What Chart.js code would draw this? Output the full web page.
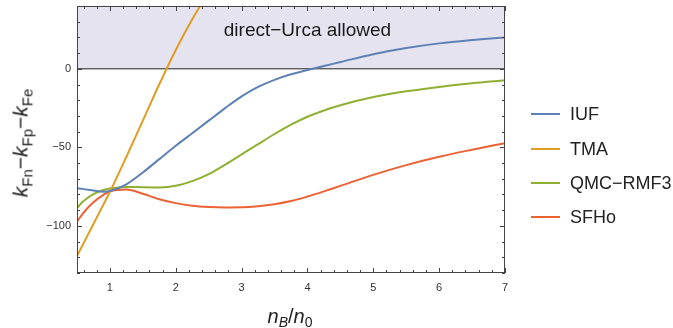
<!DOCTYPE html>
<html>
<head>
<meta charset="utf-8">
<script src="https://cdn.jsdelivr.net/npm/chart.js@4.4.1/dist/chart.umd.min.js"></script>
<style>
  html, body { margin: 0; padding: 0; background: #fff; }
  #wrap { position: relative; width: 673px; height: 328px; overflow: hidden; font-family: 'Liberation Sans', Arial, sans-serif; color: #222; }
  #chart { position: absolute; left: 0; top: 0; }
  .axis-title { position: absolute; white-space: nowrap; font-size: 20px; line-height: 1; }
  .axis-title sub { font-size: 14px; vertical-align: -0.3em; line-height: 0; }
  #ytitle { left: 20px; top: 143px; font-size: 21px; transform: translate(-50%, -50%) rotate(-90deg); }
  #ytitle sub { font-size: 15px; }
  #xtitle { left: 290px; top: 306px; transform: translateX(-50%); }
  .legend { position: absolute; left: 531px; top: 0; }
  .legend-item { position: absolute; left: 0; height: 20px; display: flex; align-items: center; font-size: 18px; white-space: nowrap; }
  .legend-swatch { width: 29px; height: 2px; margin-right: 10px; }
</style>
</head>
<body>
<div id="wrap">
  <canvas id="chart" width="673" height="328"></canvas>
  <div id="ytitle" class="axis-title"><i>k</i><sub>Fn</sub>−<i>k</i><sub>Fp</sub>−<i>k</i><sub>Fe</sub></div>
  <div id="xtitle" class="axis-title"><i>n</i><sub><i>B</i></sub>/<i>n</i><sub>0</sub></div>
  <div class="legend" id="legend"></div>
</div>
<script>
// baryon density in units of saturation density
const density = [0.5, 0.6, 0.75, 0.9, 1, 1.25, 1.5, 1.75, 2, 2.25, 2.5, 2.75, 3, 3.25, 3.5, 3.75, 4, 4.25, 4.5, 5, 5.5, 6, 6.5, 7];

// k_Fn - k_Fp - k_Fe for each equation of state
const iuf   = [-76, -76.6, -77.4, -78.2, -77.8, -73.5, -66, -57.5, -49, -41, -33, -25, -17.5, -11.5, -7, -3.5, -0.8, 1.8, 4.3, 9.3, 13.2, 16.2, 18.3, 20];
const tma   = [-119.2, -111, -98.8, -86.5, -78.3, -56, -33, -9.8, 12, 31.5, 49, null, null, null, null, null, null, null, null, null, null, null, null, null];
const qmc   = [-88.5, -84.2, -79.8, -77.2, -76.2, -75.2, -75.4, -75.5, -74.5, -71.5, -67, -61, -54.5, -48, -41.5, -35.5, -30.5, -26.5, -23.2, -18, -14.3, -11.5, -9.2, -7.3];
const sfho  = [-97.3, -91.5, -85, -80.2, -78, -76.8, -79.5, -83, -85.5, -87.2, -88, -88.3, -88.2, -87.5, -86.2, -84.2, -81.3, -78, -74.5, -67.5, -61.3, -56, -51.5, -47.3];

const seriesNames = ['IUF', 'TMA', 'QMC\u2212RMF3', 'SFHo'];
const seriesColors = ['#5E81B5', '#E19C24', '#8FB032', '#EB6235'];

const xTicks = [1, 2, 3, 4, 5, 6, 7];
const yTicks = [-100, -50, 0];
const xRange = [0.5, 7];
const yRange = [-130, 40];
const shadeLabel = 'direct\u2212Urca allowed';

const toPoints = (ys) => density.map((x, i) => ({x, y: ys[i]})).filter(p => p.y !== null);

const curves = [iuf, tma, qmc, sfho].map((ys, i) => ({
  label: seriesNames[i],
  data: toPoints(ys),
  borderColor: seriesColors[i],
  backgroundColor: seriesColors[i],
  borderWidth: 2,
  pointRadius: 0,
  cubicInterpolationMode: 'monotone',
  fill: false,
  clip: 0,
  order: i
}));

// shaded band above zero plus the zero line itself
const band = {
  label: 'band',
  data: [{x: xRange[0], y: yRange[1]}, {x: xRange[1], y: yRange[1]}],
  borderWidth: 0,
  pointRadius: 0,
  backgroundColor: 'rgb(229,227,240)',
  fill: {value: 0},
  order: 20
};
const zeroLine = {
  label: 'zero',
  data: [{x: xRange[0], y: 0}, {x: xRange[1], y: 0}],
  borderColor: '#222',
  borderWidth: 1,
  pointRadius: 0,
  fill: false,
  order: 19
};

// frame around the plot with inward major/minor ticks on all four sides
const framePlugin = {
  id: 'frame',
  afterDatasetsDraw(chart) {
    const {ctx, chartArea: a, scales: {x, y}} = chart;
    ctx.save();
    // annotation in the shaded band
    ctx.fillStyle = '#1a1a1a';
    ctx.font = "19px 'Liberation Sans', Arial, sans-serif";
    ctx.textAlign = 'center';
    ctx.textBaseline = 'middle';
    ctx.fillText(shadeLabel, x.getPixelForValue(4.0), y.getPixelForValue(24));

    ctx.strokeStyle = '#444';
    ctx.lineWidth = 1;
    ctx.strokeRect(a.left + 0.5, a.top + 0.5, a.right - a.left - 1, a.bottom - a.top - 1);
    ctx.beginPath();
    for (let v = 0.6; v < xRange[1] + 1e-6; v += 0.2) {
      const vv = Math.round(v * 10) / 10;
      const major = Math.abs(vv - Math.round(vv)) < 1e-6;
      const len = major ? 5 : 3;
      const px = Math.round(x.getPixelForValue(vv)) + 0.5;
      ctx.moveTo(px, a.bottom); ctx.lineTo(px, a.bottom - len);
      ctx.moveTo(px, a.top); ctx.lineTo(px, a.top + len);
    }
    for (let v = yRange[0]; v <= yRange[1]; v += 10) {
      const major = v % 50 === 0;
      const len = major ? 5 : 3;
      const py = Math.round(y.getPixelForValue(v)) + 0.5;
      ctx.moveTo(a.left, py); ctx.lineTo(a.left + len, py);
      ctx.moveTo(a.right, py); ctx.lineTo(a.right - len, py);
    }
    ctx.stroke();
    ctx.restore();
  }
};

const tickFont = {family: "'Liberation Sans', Arial, sans-serif", size: 11};

const chart = new Chart(document.getElementById('chart'), {
  type: 'line',
  data: {datasets: [...curves, zeroLine, band]},
  options: {
    responsive: false,
    animation: false,
    layout: {padding: {left: 0, right: 168, top: 6, bottom: 30}},
    plugins: {legend: {display: false}, tooltip: {enabled: false}},
    scales: {
      x: {
        type: 'linear',
        min: xRange[0],
        max: xRange[1],
        afterBuildTicks: (s) => { s.ticks = xTicks.map(v => ({value: v})); },
        afterFit: (s) => { s.height = 25; s.paddingLeft = 0; s.paddingRight = 0; },
        ticks: {font: tickFont, color: '#333', padding: 8, maxRotation: 0, callback: (v) => String(v)},
        grid: {display: false, drawTicks: false},
        border: {display: false}
      },
      y: {
        min: yRange[0],
        max: yRange[1],
        afterBuildTicks: (s) => { s.ticks = yTicks.map(v => ({value: v})); },
        afterFit: (s) => { s.width = 77; s.paddingTop = 0; s.paddingBottom = 0; },
        ticks: {font: tickFont, color: '#333', padding: 6, callback: (v) => String(v).replace('-', '\u2212')},
        grid: {display: false, drawTicks: false},
        border: {display: false}
      }
    }
  },
  plugins: [framePlugin]
});

// legend built from the same series list
const legend = document.getElementById('legend');
const legendTop = [114, 149, 183, 217];
seriesNames.forEach((name, i) => {
  const item = document.createElement('div');
  item.className = 'legend-item';
  item.style.top = (legendTop[i] - 10) + 'px';
  item.innerHTML = `<span class="legend-swatch" style="background:${seriesColors[i]}"></span><span>${name}</span>`;
  legend.appendChild(item);
});
</script>
</body>
</html>
